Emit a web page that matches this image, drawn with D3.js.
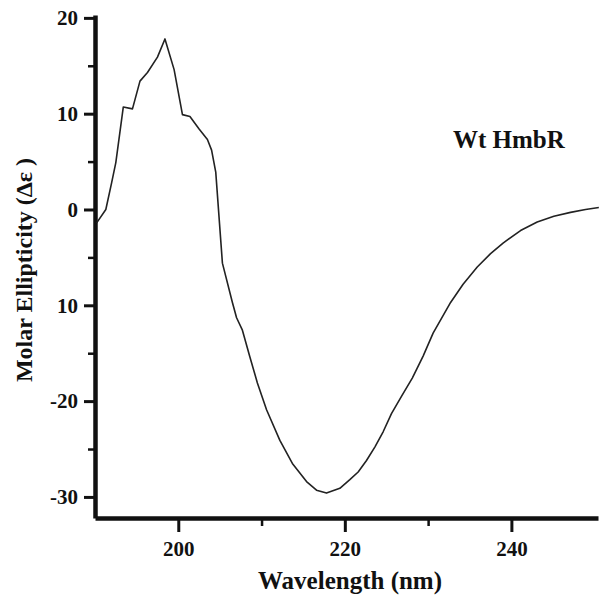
<!DOCTYPE html>
<html>
<head>
<meta charset="utf-8">
<script src="https://cdn.jsdelivr.net/npm/d3@7"></script>
<style>
  body { margin: 0; background: #fff; }
  text { font-family: "Liberation Serif", "Times New Roman", serif; font-weight: bold; fill: #111; }
</style>
</head>
<body>
<div id="chart"></div>
<script>
// wavelength (nm) and molar ellipticity
const wavelength = [190.2, 191.3, 192.0, 192.5, 193.4, 194.5, 195.4, 196.3, 197.5, 198.4,
  199.5, 200.5, 201.4, 202.5, 203.5, 204.0, 204.5, 205.3, 206.5, 207.0,
  207.7, 208.6, 209.5, 210.6, 212.2, 213.7, 215.4, 216.6, 217.8, 219.4,
  220.6, 221.6, 222.6, 223.6, 224.6, 225.6, 226.8, 228.1, 229.4, 230.6, 232.7, 234.2, 235.9,
  237.5, 239.0, 241.1, 243.1, 245.1, 247.1, 248.9, 250.5];
const ellipticity = [-1.4, 0.0, 2.8, 4.9, 10.7, 10.5, 13.4, 14.3, 15.9, 17.8,
  14.6, 9.9, 9.7, 8.4, 7.3, 6.2, 3.9, -5.6, -9.7, -11.3,
  -12.6, -15.4, -18.1, -20.9, -24.1, -26.5, -28.4, -29.3, -29.6, -29.1,
  -28.2, -27.4, -26.2, -24.8, -23.2, -21.3, -19.5, -17.6, -15.3, -12.9, -9.7, -7.8, -6.0,
  -4.6, -3.5, -2.2, -1.3, -0.7, -0.3, 0.0, 0.2];

const yTickValues = [20, 10, 0, -10, -20, -30];
const yTickLabels = ["20", "10", "0", "10", "-20", "-30"];
const yMinorTicks = [15, 5, -5, -15, -25];
const xTickValues = [200, 220, 240];
const xMinorTicks = [210, 230];

const width = 611, height = 606;
const plot = {left: 95, right: 598, top: 15, bottom: 518};

const svg = d3.select("#chart").append("svg")
  .attr("width", width)
  .attr("height", height);

const x = d3.scaleLinear().domain([190, 250.4]).range([plot.left, plot.right]);
const y = d3.scaleLinear().domain([-32.2, 20.3]).range([plot.bottom, plot.top]);

// minor ticks first, so the main axes draw over them
svg.append("g")
  .attr("transform", `translate(${plot.left},0)`)
  .call(d3.axisLeft(y).tickValues(yMinorTicks).tickSize(7).tickFormat(""))
  .call(g => g.select(".domain").remove())
  .call(g => g.selectAll("line").attr("stroke", "#111").attr("stroke-width", 2.5));

svg.append("g")
  .attr("transform", `translate(0,${plot.bottom})`)
  .call(d3.axisBottom(x).tickValues(xMinorTicks).tickSize(8).tickFormat(""))
  .call(g => g.select(".domain").remove())
  .call(g => g.selectAll("line").attr("stroke", "#111").attr("stroke-width", 2.5));

const yAxis = svg.append("g")
  .attr("transform", `translate(${plot.left},0)`)
  .call(d3.axisLeft(y)
    .tickValues(yTickValues)
    .tickSize(11)
    .tickSizeOuter(0)
    .tickPadding(6)
    .tickFormat((_, i) => yTickLabels[i]));

const xAxis = svg.append("g")
  .attr("transform", `translate(0,${plot.bottom})`)
  .call(d3.axisBottom(x)
    .tickValues(xTickValues)
    .tickSize(14)
    .tickSizeOuter(0)
    .tickPadding(9));

[yAxis, xAxis].forEach(g => {
  g.select(".domain").attr("stroke", "#111").attr("stroke-width", 4.5);
  g.selectAll(".tick line").attr("stroke", "#111").attr("stroke-width", 3);
  g.selectAll(".tick text")
    .attr("font-family", "Liberation Serif, serif")
    .attr("font-weight", "bold")
    .attr("font-size", 21)
    .attr("fill", "#111");
});

const line = d3.line()
  .x((d, i) => x(wavelength[i]))
  .y(d => y(d));

svg.append("path")
  .datum(ellipticity)
  .attr("fill", "none")
  .attr("stroke", "#222")
  .attr("stroke-width", 1.6)
  .attr("stroke-linejoin", "round")
  .attr("d", line);

svg.append("text")
  .attr("x", 350)
  .attr("y", 589)
  .attr("text-anchor", "middle")
  .attr("font-size", 25)
  .text("Wavelength (nm)");

svg.append("text")
  .attr("transform", "translate(32,270) rotate(-90)")
  .attr("text-anchor", "middle")
  .attr("font-size", 24)
  .text("Molar Ellipticity (Δε )");

svg.append("text")
  .attr("x", 453)
  .attr("y", 148)
  .attr("font-size", 25)
  .text("Wt HmbR");
</script>
</body>
</html>
